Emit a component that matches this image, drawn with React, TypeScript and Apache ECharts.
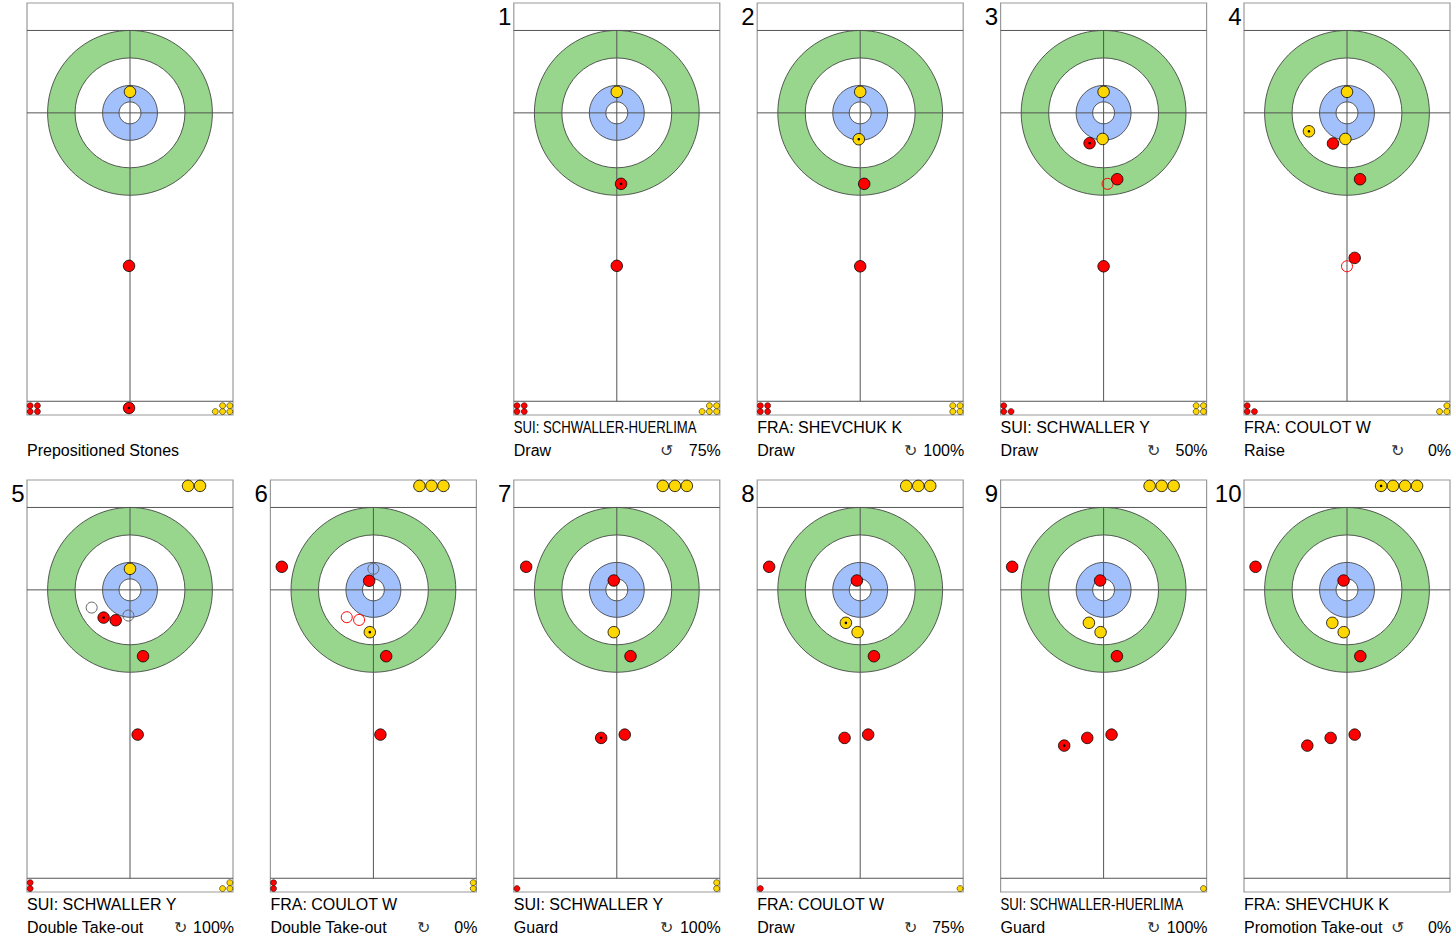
import React, { useEffect, useRef } from "react";
import * as echarts from "echarts";

// ---------- sheet extent (feet, relative to the tee centre) ----------
const FT_X_MIN = -7.5;
const FT_X_MAX = 7.5;
const FT_Y_MIN = -8;
const FT_Y_MAX = 22;
const BACK_LINE = -6;
const HOG_LINE = 21;
const RING_RADII = [6, 4, 2, 0.8];
const RING_COLORS = ["#97d68c", "#ffffff", "#a2c1fc", "#ffffff"];

// ---------- panels ----------
const PANEL_ROW = [0, 0, 0, 0, 0, 1, 1, 1, 1, 1, 1];
const PANEL_COL = [0, 2, 3, 4, 5, 0, 1, 2, 3, 4, 5];
const SHOT_NUMBERS = ["", "1", "2", "3", "4", "5", "6", "7", "8", "9", "10"];
const PLAYERS = [
  "",
  "SUI: SCHWALLER-HUERLIMA",
  "FRA: SHEVCHUK K",
  "SUI: SCHWALLER Y",
  "FRA: COULOT W",
  "SUI: SCHWALLER Y",
  "FRA: COULOT W",
  "SUI: SCHWALLER Y",
  "FRA: COULOT W",
  "SUI: SCHWALLER-HUERLIMA",
  "FRA: SHEVCHUK K",
];
const SHOT_TYPES = [
  "Prepositioned Stones",
  "Draw",
  "Draw",
  "Draw",
  "Raise",
  "Double Take-out",
  "Double Take-out",
  "Guard",
  "Draw",
  "Guard",
  "Promotion Take-out",
];
const SCORES = ["", "75%", "100%", "50%", "0%", "100%", "0%", "100%", "75%", "100%", "0%"];
const SPINS = ["", "↺", "↻", "↻", "↻", "↻", "↻", "↻", "↻", "↻", "↺"];

// ---------- stones in play [x ft, y ft] ----------
const RED_STONES: number[][][] = [
  [[-0.07, 11.14], [-0.07, 21.49]],
  [[0.31, 5.17], [0, 11.14]],
  [[0.29, 5.17], [0, 11.17]],
  [[-1.02, 2.21], [0.99, 4.83], [0, 11.17]],
  [[-1.02, 2.23], [0.95, 4.83], [0.56, 10.56]],
  [[-1.92, 2.02], [-1.04, 2.21], [0.95, 4.83], [0.56, 10.54]],
  [[-6.67, -1.68], [-0.31, -0.66], [0.93, 4.83], [0.51, 10.54]],
  [[-6.6, -1.68], [-0.22, -0.68], [1.0, 4.83], [-1.14, 10.78], [0.58, 10.54]],
  [[-6.63, -1.68], [-0.24, -0.68], [1.0, 4.83], [-1.14, 10.78], [0.58, 10.54]],
  [[-6.66, -1.68], [-0.25, -0.68], [0.97, 4.83], [-2.87, 11.34], [-1.19, 10.78], [0.58, 10.54]],
  [[-6.66, -1.68], [-0.25, -0.68], [0.97, 4.83], [-2.89, 11.34], [-1.19, 10.78], [0.56, 10.54]],
];
const YELLOW_STONES: number[][][] = [
  [[0, -1.53]],
  [[0, -1.53]],
  [[0, -1.53], [-0.1, 1.92]],
  [[0, -1.53], [-0.07, 1.9]],
  [[0, -1.53], [-0.12, 1.9], [-2.77, 1.34]],
  [[0, -1.53]],
  [[-0.26, 3.08]],
  [[-0.22, 3.08]],
  [[-1.04, 2.4], [-0.19, 3.08]],
  [[-1.07, 2.4], [-0.22, 3.08]],
  [[-1.07, 2.4], [-0.24, 3.08]],
];
// previous positions of moved / removed stones
const RED_GHOSTS: number[][][] = [
  [], [], [], [[0.29, 5.17]], [[0, 11.17]], [], [[-1.94, 1.99], [-1.04, 2.19]], [], [], [], [],
];
const GRAY_GHOSTS: number[][][] = [
  [], [], [], [], [], [[-2.79, 1.29], [-0.12, 1.87]], [[0, -1.53]], [], [], [], [],
];
// position of the stone delivered in each shot
const DELIVERED: number[][] = [
  [-0.07, 21.49], [0.31, 5.17], [-0.1, 1.92], [-1.02, 2.21], [-2.77, 1.34], [-1.92, 2.02],
  [-0.26, 3.08], [-1.14, 10.78], [-1.04, 2.4], [-2.87, 11.34], [2.48, -7.57],
];
// out-of-play stones (top strip)
const YELLOW_OUT_COUNT = [0, 0, 0, 0, 0, 2, 3, 3, 3, 3, 4];
const OUT_SLOT_X = [5.1, 4.23, 3.35, 2.48];
const OUT_Y = -7.57;
// stones still to be delivered (bottom strip)
const RED_LEFT = [4, 4, 4, 3, 3, 2, 2, 1, 1, 0, 0];
const YELLOW_LEFT = [5, 5, 4, 4, 3, 3, 2, 2, 1, 1, 0];
const LEFT_COL_X = [7.27, 6.74, 6.21];
const LEFT_ROW_Y = [21.75, 21.32];

// ---------- style / layout ----------
const RED = "#ff0000";
const YELLOW = "#ffd700";
const PANEL_LEFT0 = 27;
const PANEL_STEP = 243.4;
const ROW_TOP = [3, 480];
const PANEL_W = 206;
const PANEL_H = 412;
const FONT = "'Liberation Sans', Arial, Helvetica, sans-serif";
const LINE = "#555";
const LABEL_SIZE = 16;

function measure(text: string, size: number): number {
  const ctx = document.createElement("canvas").getContext("2d");
  if (!ctx) return text.length * size * 0.6;
  ctx.font = `${size}px ${FONT}`;
  return ctx.measureText(text).width;
}

function sheetRender(_params: any, api: any) {
  const c = api.coord([0, 0]);
  const s = Math.abs(api.size([1, 1])[0]);
  const tl = api.coord([FT_X_MIN, FT_Y_MIN]);
  const br = api.coord([FT_X_MAX, FT_Y_MAX]);
  const back = api.coord([0, BACK_LINE]);
  const hog = api.coord([0, HOG_LINE]);
  const children: any[] = [
    {
      type: "rect",
      shape: { x: tl[0], y: tl[1], width: br[0] - tl[0], height: br[1] - tl[1] },
      style: { fill: "#fff", stroke: "#999", lineWidth: 1.2 },
    },
  ];
  RING_RADII.forEach((r, i) => {
    children.push({
      type: "circle",
      shape: { cx: c[0], cy: c[1], r: r * s },
      style: { fill: RING_COLORS[i], stroke: "#333", lineWidth: 0.8 },
    });
  });
  const lines = [
    [tl[0], back[1], br[0], back[1]],
    [tl[0], c[1], br[0], c[1]],
    [tl[0], hog[1], br[0], hog[1]],
    [c[0], back[1], c[0], hog[1]],
  ];
  lines.forEach((l) =>
    children.push({
      type: "line",
      shape: { x1: l[0], y1: l[1], x2: l[2], y2: l[3] },
      style: { stroke: LINE, lineWidth: 1 },
    })
  );
  return { type: "group", children };
}

function text(x: number, y: number, str: string, size: number, align: string, extra: any = {}) {
  const { fill, ...rest } = extra;
  return {
    type: "text",
    x,
    y,
    silent: true,
    ...rest,
    style: {
      text: str,
      fontSize: size,
      fontFamily: FONT,
      fill: fill || "#000",
      align,
      verticalAlign: "middle",
      textAlign: align,
      textVerticalAlign: "middle",
    },
  };
}

function buildOption() {
  const grid: any[] = [];
  const xAxis: any[] = [];
  const yAxis: any[] = [];
  const series: any[] = [];
  const graphic: any[] = [];

  for (let p = 0; p < SHOT_TYPES.length; p++) {
    const left = PANEL_LEFT0 + PANEL_COL[p] * PANEL_STEP;
    const top = ROW_TOP[PANEL_ROW[p]];
    grid.push({ left, top, width: PANEL_W, height: PANEL_H });
    xAxis.push({ type: "value", gridIndex: p, min: FT_X_MIN, max: FT_X_MAX, show: false });
    yAxis.push({ type: "value", gridIndex: p, min: FT_Y_MIN, max: FT_Y_MAX, inverse: true, show: false });

    series.push({
      type: "custom",
      xAxisIndex: p,
      yAxisIndex: p,
      data: [[0, 0]],
      renderItem: sheetRender,
      silent: true,
      clip: false,
      z: 1,
    });

    const ghostData = [
      ...RED_GHOSTS[p].map((v) => ({ value: v, itemStyle: { borderColor: RED } })),
      ...GRAY_GHOSTS[p].map((v) => ({ value: v, itemStyle: { borderColor: "#666" } })),
    ];
    series.push({
      type: "scatter",
      xAxisIndex: p,
      yAxisIndex: p,
      symbol: "circle",
      symbolSize: 11,
      data: ghostData,
      itemStyle: { color: "rgba(0,0,0,0)", borderWidth: 1, opacity: 1 },
      silent: true,
      clip: false,
      z: 3,
    });

    const stoneData = [
      ...RED_STONES[p].map((v) => ({ value: v, itemStyle: { color: RED } })),
      ...YELLOW_STONES[p].map((v) => ({ value: v, itemStyle: { color: YELLOW } })),
      ...OUT_SLOT_X.slice(0, YELLOW_OUT_COUNT[p]).map((x) => ({
        value: [x, OUT_Y],
        itemStyle: { color: YELLOW },
      })),
    ];
    series.push({
      type: "scatter",
      xAxisIndex: p,
      yAxisIndex: p,
      symbol: "circle",
      symbolSize: 11.5,
      data: stoneData,
      itemStyle: { borderColor: "#000", borderWidth: 0.8, opacity: 1 },
      silent: true,
      clip: false,
      z: 4,
    });

    series.push({
      type: "scatter",
      xAxisIndex: p,
      yAxisIndex: p,
      symbol: "circle",
      symbolSize: 2.6,
      data: [DELIVERED[p]],
      itemStyle: { color: "#000", opacity: 1 },
      silent: true,
      clip: false,
      z: 5,
    });

    const leftData: any[] = [];
    for (let k = 0; k < RED_LEFT[p]; k++) {
      leftData.push({
        value: [-LEFT_COL_X[Math.floor(k / 2)], LEFT_ROW_Y[k % 2]],
        itemStyle: { color: RED },
      });
    }
    for (let k = 0; k < YELLOW_LEFT[p]; k++) {
      leftData.push({
        value: [LEFT_COL_X[Math.floor(k / 2)], LEFT_ROW_Y[k % 2]],
        itemStyle: { color: YELLOW },
      });
    }
    series.push({
      type: "scatter",
      xAxisIndex: p,
      yAxisIndex: p,
      symbol: "circle",
      symbolSize: 6,
      data: leftData,
      itemStyle: { borderColor: "#000", borderWidth: 0.5, opacity: 1 },
      silent: true,
      clip: false,
      z: 4,
    });

    // texts
    const bottom = top + PANEL_H;
    if (SHOT_NUMBERS[p]) {
      graphic.push(text(left - 2.5, top + 13.5, SHOT_NUMBERS[p], 24, "right"));
    }
    if (PLAYERS[p]) {
      const w = measure(PLAYERS[p], LABEL_SIZE);
      const extra = w > 192 ? { scaleX: 183 / w } : {};
      graphic.push(text(left, bottom + 12.5, PLAYERS[p], LABEL_SIZE, "left", extra));
    }
    graphic.push(text(left, bottom + 35.5, SHOT_TYPES[p], LABEL_SIZE, "left"));
    if (SPINS[p]) {
      graphic.push(text(left + 153, bottom + 35, SPINS[p], 16, "center", { fill: "#333" }));
    }
    if (SCORES[p]) {
      graphic.push(text(left + 207, bottom + 35.5, SCORES[p], LABEL_SIZE, "right"));
    }
  }

  return {
    animation: false,
    backgroundColor: "#fff",
    tooltip: { show: false },
    grid,
    xAxis,
    yAxis,
    series,
    graphic,
  };
}

export default function App() {
  const ref = useRef<HTMLDivElement>(null);
  useEffect(() => {
    document.body.style.margin = "0";
    if (!ref.current) return;
    const chart = echarts.init(ref.current, null, { renderer: "svg" });
    chart.setOption(buildOption() as any);
    return () => chart.dispose();
  }, []);
  return (
    <div style={{ position: "fixed", left: 0, top: 0, width: 1454, height: 937, overflow: "hidden" }}>
      <div ref={ref} style={{ width: 1454, height: 937, background: "#fff" }} />
    </div>
  );
}
